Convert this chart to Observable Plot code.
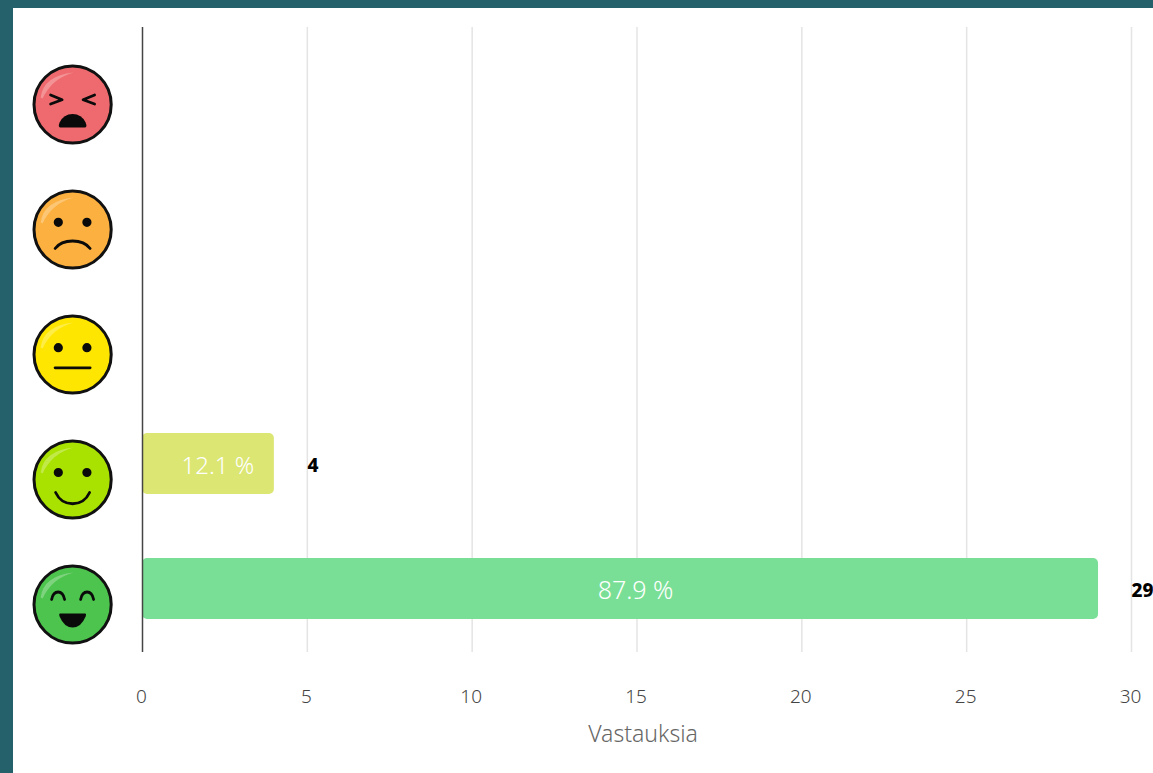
<!DOCTYPE html>
<html><head><meta charset="utf-8">
<script src="https://cdn.jsdelivr.net/npm/d3@7"></script>
<script src="https://cdn.jsdelivr.net/npm/@observablehq/plot@0.6"></script>
<style>
html,body{margin:0;padding:0;background:#fff;overflow:hidden}
#frame{box-sizing:border-box;width:1153px;height:773px;border-left:13px solid #24616b;border-top:8px solid #24616b;background:#fff}
svg{display:block}
</style></head><body><div id="frame"></div>
<script>
const moods = ["angry", "sad", "neutral", "smile", "happy"];
const counts = [0, 0, 0, 4, 29];
const shares = ["", "", "", "12.1 %", "87.9 %"];
const faceColors = ["#ef6a6e", "#fbb03f", "#ffe600", "#a9e100", "#4dc44d"];
const barColors = ["#ffffff", "#ffffff", "#ffffff", "#dbe673", "#7adf96"];
const xTicks = [0, 5, 10, 15, 20, 25, 30];
const axisLabel = "Vastauksia";

const rows = moods.map((mood, i) => ({mood, count: counts[i], share: shares[i], face: faceColors[i], bar: barColors[i]}));
const filled = rows.filter(d => d.count > 0);
const faceX = -2.12;

// Custom Plot symbols: every face part is drawn around the dot's own centre.
const sym = draw => ({draw});
const eyes = (c, y, r = 4.6) => {
  for (const s of [-1, 1]) { c.moveTo(s * 14.3 + r, y); c.arc(s * 14.3, y, r, 0, 2 * Math.PI); }
};
const solid = {
  angry: sym(c => {
    c.moveTo(-12, 23);
    c.quadraticCurveTo(-15, 23, -13, 18);
    c.quadraticCurveTo(-9, 9.5, 0, 9.5);
    c.quadraticCurveTo(9, 9.5, 13, 18);
    c.quadraticCurveTo(15, 23, 12, 23);
    c.closePath();
  }),
  sad: sym(c => eyes(c, -7.2)),
  neutral: sym(c => eyes(c, -6.8)),
  smile: sym(c => eyes(c, -7)),
  happy: sym(c => {
    c.moveTo(-12.5, 9);
    c.lineTo(12.5, 9);
    c.quadraticCurveTo(14, 9, 13, 12);
    c.quadraticCurveTo(8.5, 23, 0, 23);
    c.quadraticCurveTo(-8.5, 23, -13, 12);
    c.quadraticCurveTo(-14, 9, -12.5, 9);
    c.closePath();
  })
};
const lined = {
  angry: sym(c => {
    for (const s of [-1, 1]) {
      c.moveTo(s * 22, -9.5); c.lineTo(s * 10.5, -4.7); c.lineTo(s * 22, -0.5);
    }
  }),
  sad: sym(c => { c.moveTo(-17.5, 19); c.bezierCurveTo(-10, 9, 10, 9, 17.5, 19); }),
  neutral: sym(c => { c.moveTo(-17.5, 13.3); c.lineTo(17.5, 13.3); }),
  smile: sym(c => { c.moveTo(-17, 13); c.bezierCurveTo(-10, 28, 10, 28, 17, 13); }),
  happy: sym(c => {
    for (const s of [-1, 1]) {
      c.moveTo(s * 21, -5); c.bezierCurveTo(s * 19, -15, s * 10, -15, s * 8, -5);
    }
  })
};
const gleam = sym(c => {
  c.moveTo(-32, -7);
  c.quadraticCurveTo(-29, -29, 1, -32);
  c.quadraticCurveTo(-21, -26, -30, -6);
  c.closePath();
});

const faceDy = 15.5;
const faceMarks = [
  Plot.dot(rows, {x: () => faceX, y: "mood", r: 38.6, fill: "face", stroke: "#111", strokeWidth: 3, dy: faceDy}),
  Plot.dot(rows, {x: () => faceX, y: "mood", symbol: gleam, r: 10, fill: "#fff", fillOpacity: 0.28, stroke: "none", dy: faceDy}),
  ...rows.flatMap(d => [
    Plot.dot([d], {x: () => faceX, y: "mood", symbol: solid[d.mood], r: 10, fill: "#0a0a0a", stroke: "none", dy: faceDy}),
    Plot.dot([d], {x: () => faceX, y: "mood", symbol: lined[d.mood], r: 10, fill: "none", stroke: "#0a0a0a", strokeWidth: 2.8, strokeLinecap: "round", strokeLinejoin: "round", dy: faceDy})
  ])
];

const chart = Plot.plot({
  width: 1140,
  height: 765,
  marginLeft: 129,
  marginRight: 22,
  marginTop: 18,
  marginBottom: 122,
  style: {background: "#fff", fontFamily: "'Noto Sans', sans-serif"},
  x: {domain: [0, 30], axis: null},
  y: {domain: moods, axis: null, paddingInner: 0.512, paddingOuter: 0.256, align: 0.5},
  color: {type: "identity"},
  marks: [
    Plot.ruleX(xTicks.filter(t => t > 0), {stroke: "#e4e4e4", strokeWidth: 1.5, dy: 1}),
    Plot.barX(filled, {x: "count", y: "mood", fill: "bar", rx: 5}),
    Plot.ruleX([0], {stroke: "#444", strokeWidth: 1.5, dy: 1}),
    Plot.text(filled.filter(d => d.count === 4), {x: d => d.count / 2, y: "mood", text: "share", fill: "#fff", fontSize: 24, fontWeight: 300, dx: 9.5, dy: 2}),
    Plot.text(filled.filter(d => d.count === 29), {x: d => d.count / 2, y: "mood", text: "share", fill: "#fff", fontSize: 25, fontWeight: 300, dx: 15, dy: 2}),
    Plot.text(filled.filter(d => d.count === 4), {x: "count", y: "mood", text: d => String(d.count), fill: "#000", fontSize: 19, fontWeight: 800, dx: 38.5, dy: 2}),
    Plot.text(filled.filter(d => d.count === 29), {x: "count", y: "mood", text: d => String(d.count), fill: "#000", fontSize: 19, fontWeight: 800, dx: 44, dy: 2}),
    Plot.text(xTicks, {x: d => d, frameAnchor: "bottom", text: d => String(d), fill: "#444", fontSize: 19, fontWeight: 300, dx: -1, dy: 51}),
    Plot.text([axisLabel], {x: () => 15, frameAnchor: "bottom", text: d => d, fill: "#666", fontSize: 23, fontWeight: 300, dx: 6, dy: 90}),
    ...faceMarks
  ]
});
document.getElementById("frame").append(chart);
</script></body></html>
